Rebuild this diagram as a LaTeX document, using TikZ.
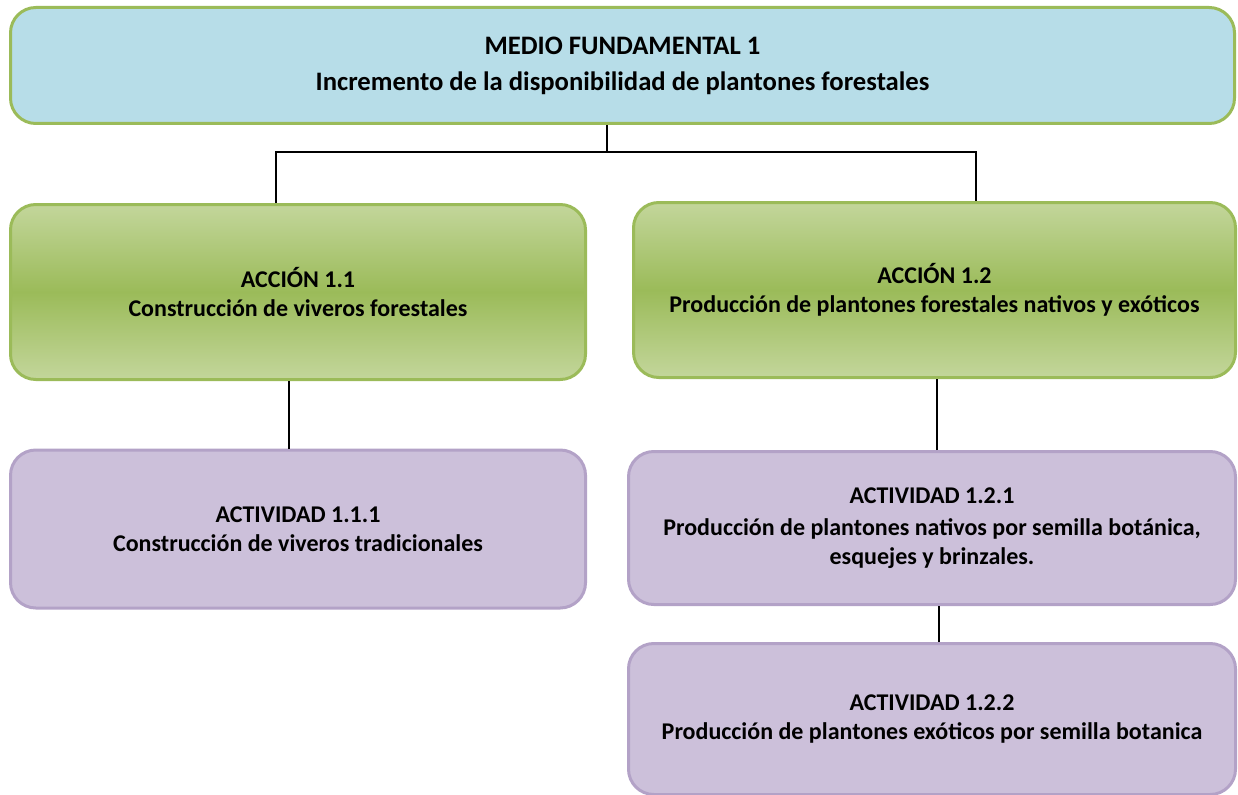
\documentclass[tikz,border=0pt]{standalone}
\usepackage{fontspec}
\setmainfont{Carlito}
\usepackage{xcolor}
\usepackage{tikz}
\usetikzlibrary{positioning}
\definecolor{frameGreen}{HTML}{9BBB59}
\definecolor{fillBlue}{HTML}{B7DDE8}
\definecolor{greenLight}{HTML}{C3D69B}
\definecolor{greenDark}{HTML}{9BBB59}
\definecolor{fillLilac}{HTML}{CCC0DA}
\definecolor{frameLilac}{HTML}{B3A2C7}

\begin{document}
\begin{tikzpicture}[x=0.75pt, y=-0.75pt,
  box/.style={rounded corners=19pt, line width=2.25pt, align=center, inner sep=0pt,
    font=\bfseries\fontsize{18}{22}\selectfont},
  mediobox/.style={box, draw=frameGreen, fill=fillBlue},
  accionbox/.style={box, draw=frameGreen, top color=greenLight, bottom color=greenLight, middle color=greenDark},
  actbox/.style={box, draw=frameLilac, fill=fillLilac},
  link/.style={line width=1.2pt}]
  \useasboundingbox (0,0) rectangle (1238,795);
  % medio fundamental
  \node[mediobox, minimum width=918pt, minimum height=87pt,
        font=\bfseries\fontsize{20}{23}\selectfont] (medio) at (622.5,65.5)
    {MEDIO FUNDAMENTAL 1\\[4pt] Incremento de la disponibilidad de plantones forestales};
  % acciones
  \node[accionbox, minimum width=431.25pt, minimum height=131.25pt] (acc1) at (298,292)
    {ACCIÓN 1.1\\ Construcción de viveros forestales};
  \node[accionbox, minimum width=451.5pt, minimum height=131.25pt] (acc2) at (934.5,290)
    {ACCIÓN 1.2\\ Producción de plantones forestales nativos y exóticos};
  % actividades
  \node[actbox, minimum width=431.25pt, minimum height=118.5pt] (act111) at (298,529)
    {ACTIVIDAD 1.1.1\\ Construcción de viveros tradicionales};
  \node[actbox, minimum width=455.25pt, minimum height=114.75pt] (act121) at (932,528)
    {ACTIVIDAD 1.2.1\\[2pt] Producción de plantones nativos por semilla botánica,\\ esquejes y brinzales.};
  \node[actbox, minimum width=455.25pt, minimum height=113.25pt] (act122) at (932,719)
    {ACTIVIDAD 1.2.2\\ Producción de plantones exóticos por semilla botanica};
  % connectors
  \coordinate (fork) at (607,152);
  \draw[link] (medio.south -| fork) -- (fork);
  \draw[link] ([xshift=-16.5pt]acc1.north) |- (fork) -| ([xshift=31pt]acc2.north);
  \draw[link] ([xshift=-6.75pt]acc1.south) -- ([xshift=-6.75pt]act111.north);
  \draw[link] ([xshift=3.75pt]act121.north) -- ([xshift=3.75pt]act121.north |- acc2.south);
  \draw[link] ([xshift=5.25pt]act122.north) -- ([xshift=5.25pt]act122.north |- act121.south);
\end{tikzpicture}
\end{document}
